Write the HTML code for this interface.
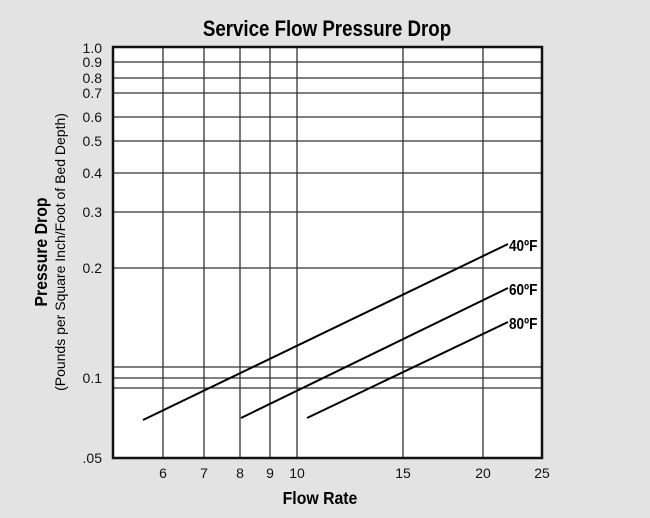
<!DOCTYPE html>
<html><head><style>
body{margin:0;background:#e3e3e3;}
svg{display:block;font-family:"Liberation Sans",Arial,sans-serif;}
</style></head><body>
<svg width="650" height="518" viewBox="0 0 650 518">
<rect width="650" height="518" fill="#e3e3e3"/>
<text x="0" y="36" text-anchor="middle" font-size="22" font-weight="bold" transform="translate(327 0) scale(0.85 1)">Service Flow Pressure Drop</text>
<rect x="113" y="47" width="429" height="411" fill="#fff"/>
<g stroke="#333" stroke-width="1.3">
<line x1="163" y1="47" x2="163" y2="458"/><line x1="204" y1="47" x2="204" y2="458"/>
<line x1="240" y1="47" x2="240" y2="458"/><line x1="270" y1="47" x2="270" y2="458"/>
<line x1="297" y1="47" x2="297" y2="458"/><line x1="403" y1="47" x2="403" y2="458"/>
<line x1="483" y1="47" x2="483" y2="458"/>
<line x1="113" y1="62" x2="542" y2="62"/><line x1="113" y1="78" x2="542" y2="78"/>
<line x1="113" y1="93" x2="542" y2="93"/><line x1="113" y1="117" x2="542" y2="117"/>
<line x1="113" y1="141" x2="542" y2="141"/><line x1="113" y1="173" x2="542" y2="173"/>
<line x1="113" y1="212" x2="542" y2="212"/><line x1="113" y1="268" x2="542" y2="268"/>
<line x1="113" y1="367" x2="542" y2="367"/><line x1="113" y1="378" x2="542" y2="378"/>
<line x1="113" y1="388" x2="542" y2="388"/>
</g>
<rect x="113" y="47" width="429" height="411" fill="none" stroke="#111" stroke-width="2.5"/>
<g stroke="#000" stroke-width="2">
<line x1="143" y1="420" x2="508" y2="244"/>
<line x1="241" y1="418" x2="508" y2="288"/>
<line x1="307" y1="418" x2="508" y2="322"/>
</g>
<g font-size="16" font-weight="bold">
<text transform="translate(509 251) scale(0.85 1)">40ºF</text>
<text transform="translate(509 295) scale(0.85 1)">60ºF</text>
<text transform="translate(509 329) scale(0.85 1)">80ºF</text>
</g>
<g font-size="14" text-anchor="end" fill="#111">
<text x="102" y="53">1.0</text><text x="102" y="67">0.9</text><text x="102" y="83">0.8</text>
<text x="102" y="98">0.7</text><text x="102" y="122">0.6</text><text x="102" y="146">0.5</text>
<text x="102" y="178">0.4</text><text x="102" y="217">0.3</text><text x="102" y="273">0.2</text>
<text x="102" y="383">0.1</text><text x="102" y="463">.05</text>
</g>
<g font-size="14" text-anchor="middle" fill="#111">
<text x="163" y="478">6</text><text x="204" y="478">7</text><text x="240" y="478">8</text>
<text x="270" y="478">9</text><text x="297" y="478">10</text><text x="403" y="478">15</text>
<text x="483" y="478">20</text><text x="542" y="478">25</text>
</g>
<text text-anchor="middle" font-size="18" font-weight="bold" transform="translate(320 504) scale(0.88 1)">Flow Rate</text>
<text transform="translate(47 252) rotate(-90) scale(0.88 1)" text-anchor="middle" font-size="18" font-weight="bold">Pressure Drop</text>
<text transform="translate(65 252) rotate(-90)" text-anchor="middle" font-size="14">(Pounds per Square Inch/Foot of Bed Depth)</text>
</svg>
</body></html>
